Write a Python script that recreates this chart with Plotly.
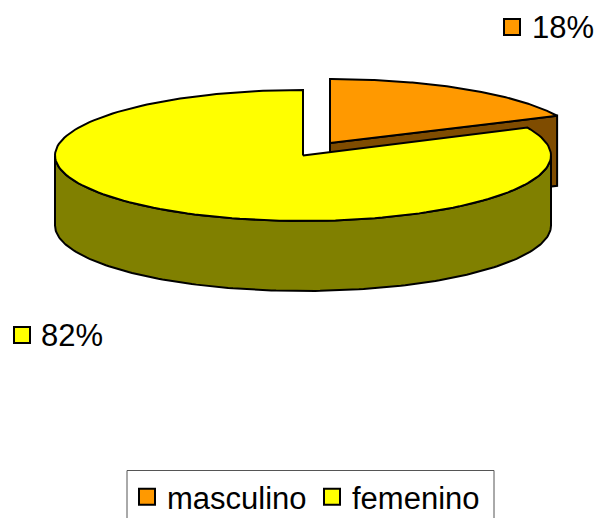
import numpy as np
import plotly.graph_objects as go

categories = ["masculino", "femenino"]
values = [18, 82]
top_colors = ["#FF9900", "#FFFF00"]
side_colors = ["#7F4C00", "#808000"]

W, H = 597, 518
RADII = [(251, 64), (248, 65.5)]
DEPTH = 70
CENTERS = [(330, 143), (303, 155.5)]
LABEL_MARKERS = [(512, 27), (22, 335)]
LABEL_TEXT = [(530, 27), (39, 335)]
FONT_SIZE = 31

total = sum(values)
edges = np.cumsum([0] + values) / total * 2 * np.pi


def rim(c, r, a0, a1, dy=0):
    a = np.linspace(a0, a1, 160)
    return c[0] + r[0] * np.sin(a), c[1] - r[1] * np.cos(a) + dy


fig = go.Figure()


def poly(x, y, color, width=2):
    fig.add_trace(go.Scatter(
        x=list(x) + [x[0]], y=list(y) + [y[0]], mode="lines", fill="toself",
        fillcolor=color, line=dict(color="black", width=width, shape="linear"),
        showlegend=False, hoverinfo="skip"))


# orange slice: cut face, then top
c, r = CENTERS[0], RADII[0]
a0, a1 = edges[0], edges[1]
tx, ty = rim(c, r, a1, a1)
poly([c[0], tx[0], tx[0], c[0]], [c[1], ty[0], ty[0] + DEPTH, c[1] + DEPTH], side_colors[0])
rx_, ry_ = rim(c, r, a0, a1)
poly([c[0]] + list(rx_), [c[1]] + list(ry_), top_colors[0])

# yellow slice: outer wall, then top
c, r = CENTERS[1], RADII[1]
a0, a1 = edges[1], edges[2]
ux, uy = rim(c, r, np.pi / 2, 3 * np.pi / 2)
lx, ly = rim(c, r, 3 * np.pi / 2, np.pi / 2, DEPTH)
poly(list(ux) + list(lx), list(uy) + list(ly), side_colors[1])
rx_, ry_ = rim(c, r, a0, a1)
poly([c[0]] + list(rx_), [c[1]] + list(ry_), top_colors[1])

# label keys double as legend entries
for name, col, (mx, my), (lx_, ly_), v in zip(categories, top_colors, LABEL_MARKERS, LABEL_TEXT, values):
    fig.add_trace(go.Scatter(
        x=[mx], y=[my], mode="markers", name=name,
        marker=dict(symbol="square", size=16, color=col, line=dict(color="black", width=2)),
        hoverinfo="skip"))
    fig.add_annotation(x=lx_, y=ly_, xref="x", yref="y", text=f"{v / total:.0%}", showarrow=False,
                       xanchor="left", yanchor="middle",
                       font=dict(family="Liberation Sans", size=FONT_SIZE, color="black"))

# legend frame runs off the bottom of the page, so it is open at the bottom
fig.add_shape(type="path", xref="x", yref="y", path=f"M127,{H} L127,470.5 L494,470.5 L494,{H}",
              line=dict(color="#555555", width=1))

fig.update_layout(
    width=W, height=H, margin=dict(l=0, r=0, t=0, b=0, autoexpand=False),
    paper_bgcolor="white", plot_bgcolor="white",
    xaxis=dict(range=[0, W], visible=False, fixedrange=True),
    yaxis=dict(range=[H, 0], visible=False, fixedrange=True),
    legend=dict(orientation="h", x=127 / W, y=1 - 470 / H, xanchor="left", yanchor="top",
                borderwidth=0, bgcolor="rgba(0,0,0,0)",
                font=dict(family="Liberation Sans", size=FONT_SIZE, color="black"),
                itemwidth=30, entrywidth=140, entrywidthmode="pixels", traceorder="normal"),
)
fig.write_html("out.html", config=dict(displayModeBar=False), post_script="document.body.style.margin='0';")
